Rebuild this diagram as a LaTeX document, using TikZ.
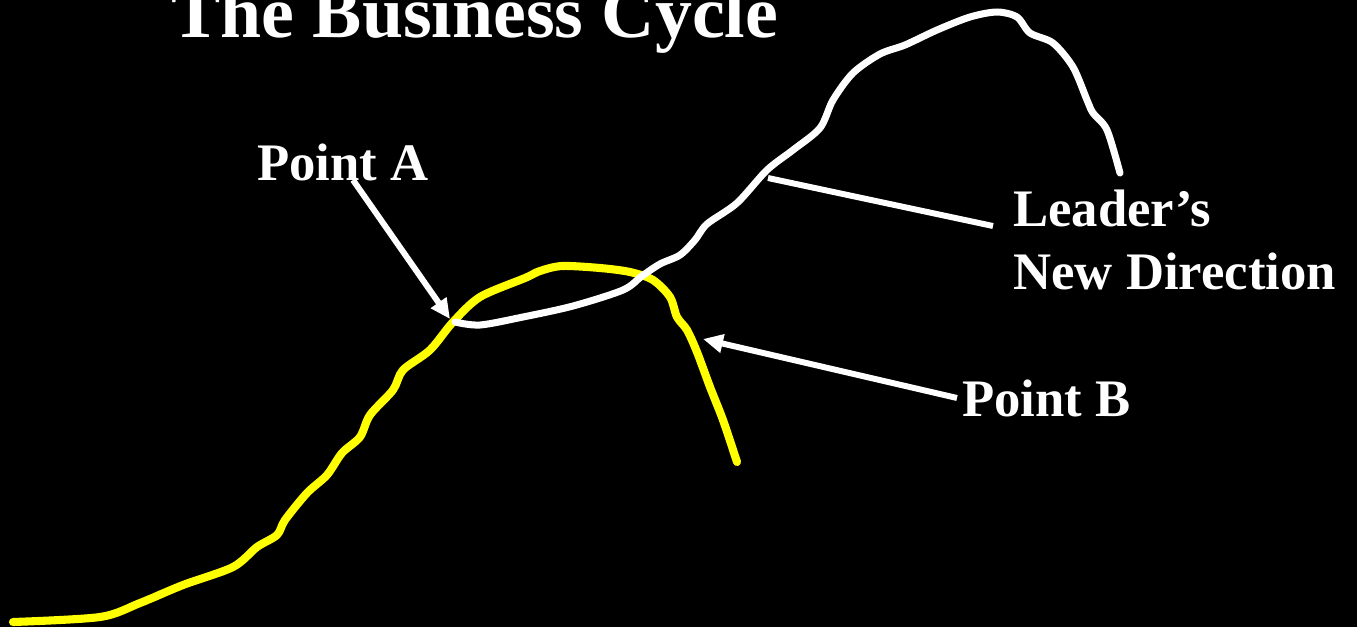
\documentclass[tikz,border=0pt]{standalone}
\usepackage{fontspec}
\setmainfont{Liberation Serif}
\usetikzlibrary{arrows.meta}
\definecolor{cycYellow}{HTML}{FFFF00}
\tikzset{
  heading/.style={anchor=base west,inner sep=0pt,text=white,font=\fontsize{42}{46}\selectfont\bfseries},
  cyclelabel/.style={anchor=base west,inner sep=0pt,text=white,font=\fontsize{30}{34}\selectfont\bfseries},
  oldpath/.style={draw=cycYellow,line width=4.6pt,line cap=round,line join=round},
  newpath/.style={draw=white,line width=4pt,line cap=round,line join=round},
  pointer/.style={-{Triangle[length=0.4cm,width=0.36cm]},draw=white,line width=3.4pt},
  leadline/.style={draw=white,line width=3.4pt}
}
\begin{document}
\begin{tikzpicture}[x=0.02cm,y=-0.02cm]
\fill[black] (0,0) rectangle (1357,627);
\useasboundingbox (0,0) rectangle (1357,627);

\node[heading] (title) at (171,37) {The Business Cycle};
\node[cyclelabel] (pointA) at (257,180) {Point A};
\node[cyclelabel] (pointB) at (962,416) {Point B};
\node[cyclelabel] (leader) at (1013,226) {Leader’s};
\node[cyclelabel] (newdir) at (1013,289) {New Direction};

% yellow curve: the old cycle
\draw[oldpath] plot[smooth,tension=0.5] coordinates {
  (13,622) (100,617) (140,603) (183,585) (233,567) (257,547) (277,535)
  (285,520) (307,493) (327,475) (342,453) (360,437) (370,415) (393,390)
  (403,370) (430,350) (453,322) (480,297) (525,278) (540,271) (562,266)
  (600,268) (630,272) (653,280) (670,297) (677,317) (687,330) (697,352)
  (710,387) (723,420) (737,462)};

% white curve: the new direction
\draw[newpath] plot[smooth,tension=0.5] coordinates {
  (455,322) (480,325) (523,317) (573,306) (623,290) (642,276) (660,264)
  (680,255) (695,240) (707,224) (737,203) (767,170) (793,150) (820,128)
  (833,100) (853,73) (880,54) (905,45) (937,30) (970,17) (997,12)
  (1017,17) (1030,33) (1053,43) (1073,67) (1087,100) (1093,113)
  (1107,130) (1120,173)};

\coordinate (hitA) at (450,319);
\coordinate (hitB) at (703,339);
\coordinate (turn) at (768,178);

\draw[pointer] ([xshift=2mm]pointA.base) -- (hitA);
\draw[pointer] ([xshift=-1mm]pointB.west) -- (hitB);
\draw[leadline] ([xshift=-4mm]leader.base west) -- (turn);
\end{tikzpicture}
\end{document}
